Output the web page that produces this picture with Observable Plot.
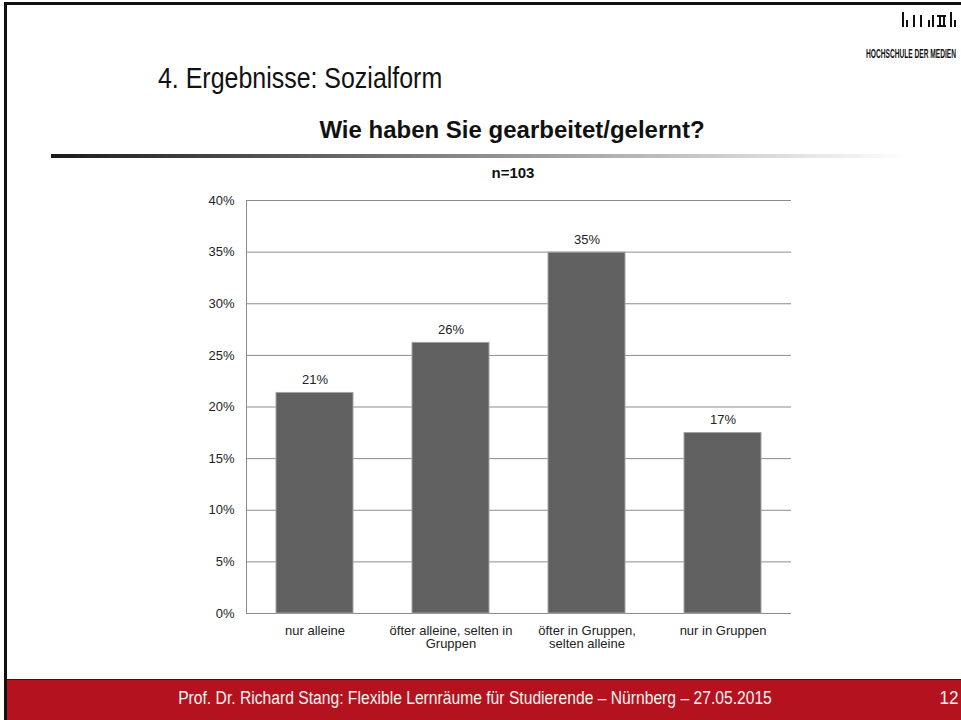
<!DOCTYPE html>
<html>
<head>
<meta charset="utf-8">
<script src="https://cdn.jsdelivr.net/npm/d3@7"></script>
<script src="https://cdn.jsdelivr.net/npm/@observablehq/plot@0.6"></script>
<style>
  html, body { margin: 0; padding: 0; }
  body { width: 961px; height: 720px; overflow: hidden; position: relative; background: #fff; font-family: "Liberation Sans", Arial, sans-serif; }
  .abs { position: absolute; white-space: nowrap; line-height: 1; }
  #frame { position: absolute; left: 4px; top: 2px; width: 957px; height: 718px; border-top: 3px solid #111; border-left: 3px solid #111; box-sizing: border-box; }
  #title { left: 158px; top: 64px; font-size: 29px; color: #111; transform: scaleX(0.86); transform-origin: left top; }
  #subtitle { left: 0; width: 1024px; text-align: center; top: 118px; font-size: 24px; font-weight: bold; color: #111; }
  #rule { position: absolute; left: 51px; top: 154px; width: 855px; height: 4px; background: linear-gradient(to right, #1a1a1a, #ffffff); }
  #n { left: 0; width: 1026px; text-align: center; top: 165px; font-size: 15px; font-weight: bold; color: #111; }
  #chart { position: absolute; left: 186px; top: 180px; }
  #footer { position: absolute; left: 7px; top: 679px; width: 954px; height: 41px; background: #b5121f; border-top: 1px solid #4a0a0e; box-sizing: border-box; }
  #ftext { left: 475px; top: 689px; font-size: 18px; color: #f2f2f2; transform: translateX(-50%) scaleX(0.87); transform-origin: center top; }
  #page { left: 949px; top: 688px; font-size: 19px; color: #f2f2f2; transform: translateX(-50%) scaleX(0.9); }
  #logo { position: absolute; left: 902px; top: 12px; }
  #logotext { left: 866px; top: 47px; font-size: 13px; font-weight: bold; color: #111; transform-origin: left top; }
</style>
</head>
<body>
<div id="frame"></div>
<div class="abs" id="title">4. Ergebnisse: Sozialform</div>
<svg id="logo" width="56" height="16" viewBox="0 0 56 16">
  <rect x="0" y="0" width="2" height="15" fill="#111"/>
  <rect x="4" y="8" width="2" height="7" fill="#111"/>
  <rect x="11" y="3" width="2" height="12" fill="#111"/>
  <rect x="18" y="3" width="2" height="12" fill="#111"/>
  <rect x="26" y="8" width="2" height="7" fill="#111"/>
  <rect x="30" y="3" width="2" height="12" fill="#111"/>
  <rect x="35" y="3" width="9" height="2" fill="#111"/>
  <rect x="37" y="3" width="2" height="12" fill="#111"/>
  <rect x="41" y="3" width="2" height="12" fill="#111"/>
  <rect x="35" y="13" width="9" height="2" fill="#111"/>
  <rect x="48" y="0" width="2" height="15" fill="#111"/>
  <rect x="52" y="8" width="2" height="7" fill="#111"/>
</svg>
<div class="abs" id="logotext">HOCHSCHULE DER MEDIEN</div>
<div class="abs" id="subtitle">Wie haben Sie gearbeitet/gelernt?</div>
<div id="rule"></div>
<div class="abs" id="n">n=103</div>
<div id="chart"></div>
<div id="footer"></div>
<div class="abs" id="ftext">Prof. Dr. Richard Stang: Flexible Lernräume für Studierende – Nürnberg – 27.05.2015</div>
<div class="abs" id="page">12</div>
<script>
const categories = ["nur alleine", "öfter alleine, selten in Gruppen", "öfter in Gruppen, selten alleine", "nur in Gruppen"];
const tickLabels = ["nur alleine", "öfter alleine, selten in\nGruppen", "öfter in Gruppen,\nselten alleine", "nur in Gruppen"];
const values = [21.36, 26.21, 34.95, 17.48];
const valueLabels = ["21%", "26%", "35%", "17%"];
const yTicks = [0, 5, 10, 15, 20, 25, 30, 35, 40];

const data = categories.map((c, i) => ({cat: c, value: values[i], label: valueLabels[i]}));

const chart = Plot.plot({
  width: 615,
  height: 483,
  marginLeft: 60,
  marginRight: 10,
  marginTop: 20,
  marginBottom: 50,
  style: {fontFamily: "'Liberation Sans', Arial, sans-serif", fontSize: "13px", color: "#222", background: "transparent"},
  x: {domain: categories, paddingInner: 0.435, paddingOuter: 0.2175, label: null, tickSize: 0, tickPadding: 12,
      tickFormat: d => tickLabels[categories.indexOf(d)]},
  y: {domain: [0, 40], ticks: yTicks, label: null, tickSize: 0, tickPadding: 12, tickFormat: d => d + "%"},
  marks: [
    Plot.ruleY(yTicks, {stroke: "#8c8c8c", strokeWidth: 1}),
    Plot.frame({anchor: "left", stroke: "#8c8c8c"}),
    Plot.barY(data, {x: "cat", y: "value", fill: "#606060", stroke: "#a3a3a3", strokeWidth: 1}),
    Plot.text(data, {x: "cat", y: "value", text: "label", dy: -13, fontSize: 13, fill: "#222"})
  ]
});
document.getElementById("chart").appendChild(chart);

// fit the logo lettering into its 90px slot
const lt = document.getElementById("logotext");
const w = lt.getBoundingClientRect().width;
lt.style.transform = "scaleX(" + (90 / w) + ")";
</script>
</body>
</html>
